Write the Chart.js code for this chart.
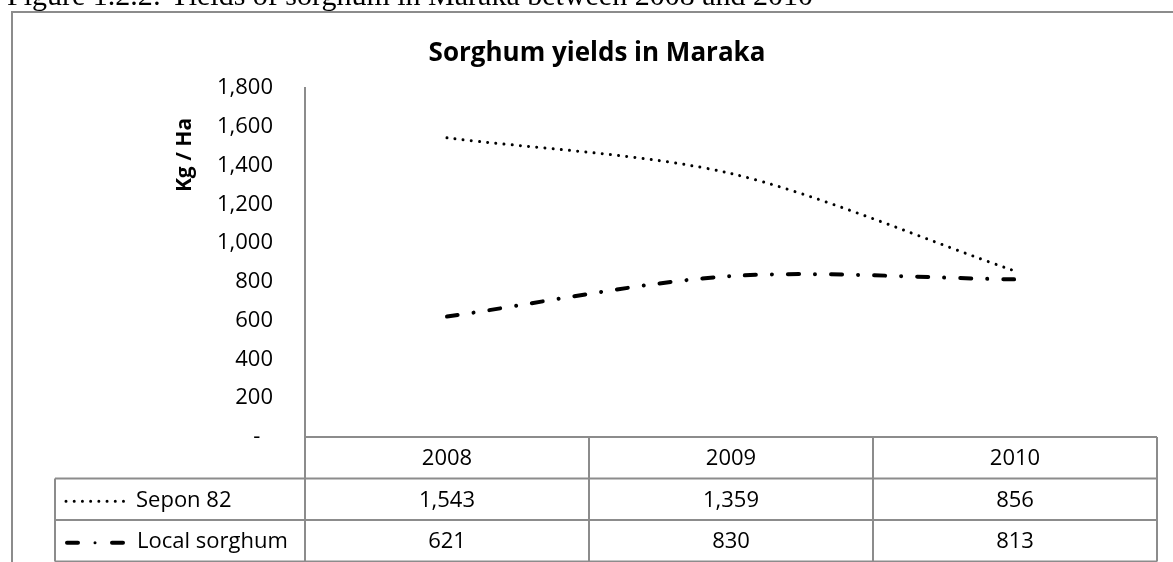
<!DOCTYPE html>
<html>
<head>
<meta charset="utf-8">
<script src="https://cdn.jsdelivr.net/npm/chart.js@4/dist/chart.umd.min.js"></script>
<style>
  html, body { margin: 0; padding: 0; background: #fff; }
  #wrap { position: relative; width: 1173px; height: 562px; }
</style>
</head>
<body>
<div id="wrap"><canvas id="c" width="1173" height="562"></canvas></div>
<script>
// ---- data ----
const caption = 'Figure 1.2.2: Yields of sorghum in Maraka between 2008 and 2010';
const chartTitle = 'Sorghum yields in Maraka';
const yTitle = 'Kg / Ha';
const years = ['2008', '2009', '2010'];
const seriesNames = ['Sepon 82', 'Local sorghum'];
const sepon82 = [1543, 1359, 856];
const localSorghum = [621, 830, 813];
const yMin = 0, yMax = 1800, yStep = 200;

const FONT = '"Open Sans", "Liberation Sans", sans-serif';
const GRAY = '#8c8c8c';
const fmt = v => v.toLocaleString('en-US');

const dashSepon = [0.01, 8.2];
const dashLocal = [11, 16, 0.01, 16];

const tablePlugin = {
  id: 'tablePlugin',
  afterDraw(chart) {
    const ctx = chart.ctx;
    const ca = chart.chartArea;
    const xs = chart.scales.x;
    const colW = (ca.right - ca.left) / years.length;
    const rowH = 41.5;
    const legendLeft = 55;
    ctx.save();

    // caption (cut off at top)
    ctx.fillStyle = '#000';
    ctx.font = '30px "Liberation Serif", "Times New Roman", serif';
    ctx.textAlign = 'left';
    ctx.textBaseline = 'alphabetic';
    ctx.fillText(caption, 7, 5);

    // outer frame (top & left)
    ctx.strokeStyle = GRAY;
    ctx.lineWidth = 2;
    ctx.beginPath();
    ctx.moveTo(12, 562); ctx.lineTo(12, 12); ctx.lineTo(1173, 12);
    ctx.stroke();

    // chart title
    ctx.font = 'bold 26px ' + FONT;
    ctx.textAlign = 'center';
    ctx.fillText(chartTitle, 597, 61);

    // y title
    ctx.save();
    ctx.translate(185, 155);
    ctx.rotate(-Math.PI / 2);
    ctx.font = 'bold 21px ' + FONT;
    ctx.textAlign = 'center';
    ctx.textBaseline = 'middle';
    ctx.fillText(yTitle, 0, 0);
    ctx.restore();

    // table grid
    const top = ca.bottom;
    const r1 = top + rowH, r2 = top + 2 * rowH, r3 = top + 3 * rowH;
    ctx.strokeStyle = GRAY;
    ctx.lineWidth = 2;
    ctx.beginPath();
    ctx.moveTo(ca.left, top); ctx.lineTo(ca.right, top);
    ctx.moveTo(legendLeft, r1); ctx.lineTo(ca.right, r1);
    ctx.moveTo(legendLeft, r2); ctx.lineTo(ca.right, r2);
    ctx.moveTo(legendLeft, r3); ctx.lineTo(ca.right, r3);
    ctx.moveTo(legendLeft, r1); ctx.lineTo(legendLeft, r3);
    for (let i = 0; i <= years.length; i++) {
      const x = ca.left + i * colW;
      ctx.moveTo(x, i === 0 ? ca.top : top); ctx.lineTo(x, r3);
    }
    ctx.stroke();

    // table text
    ctx.fillStyle = '#000';
    ctx.font = '22px ' + FONT;
    ctx.textAlign = 'center';
    ctx.textBaseline = 'middle';
    years.forEach((y, i) => {
      const x = xs.getPixelForValue(i);
      ctx.fillText(y, x, top + rowH / 2 + 1);
      ctx.fillText(fmt(sepon82[i]), x, r1 + rowH / 2 + 1);
      ctx.fillText(fmt(localSorghum[i]), x, r2 + rowH / 2 + 1);
    });

    // legend keys
    ctx.textAlign = 'left';
    ctx.fillText(seriesNames[0], 136, r1 + rowH / 2 + 1);
    ctx.fillText(seriesNames[1], 137, r2 + rowH / 2 + 1);

    ctx.strokeStyle = '#000';
    ctx.lineCap = 'round';
    ctx.lineWidth = 3;
    ctx.setLineDash(dashSepon);
    ctx.beginPath();
    ctx.moveTo(66, r1 + rowH / 2 + 2); ctx.lineTo(131, r1 + rowH / 2 + 2);
    ctx.stroke();

    ctx.lineWidth = 4;
    ctx.setLineDash([]);
    const ly = r2 + rowH / 2 + 2;
    ctx.beginPath();
    ctx.moveTo(67, ly); ctx.lineTo(78, ly);
    ctx.moveTo(112, ly); ctx.lineTo(123, ly);
    ctx.stroke();
    ctx.lineWidth = 3;
    ctx.beginPath();
    ctx.moveTo(95, ly); ctx.lineTo(95.01, ly);
    ctx.stroke();
    ctx.restore();
  }
};

new Chart(document.getElementById('c'), {
  type: 'line',
  data: {
    labels: years,
    datasets: [
      {
        label: seriesNames[0],
        data: sepon82,
        borderColor: '#000',
        borderWidth: 3,
        borderDash: dashSepon,
        borderCapStyle: 'round',
        pointRadius: 0,
        tension: 0.3,
        fill: false
      },
      {
        label: seriesNames[1],
        data: localSorghum,
        borderColor: '#000',
        borderWidth: 4,
        borderDash: dashLocal,
        borderCapStyle: 'round',
        pointRadius: 0,
        tension: 0.3,
        fill: false
      }
    ]
  },
  options: {
    responsive: false,
    animation: false,
    devicePixelRatio: 1,
    layout: { padding: { top: 88, bottom: 125, right: 16, left: 0 } },
    plugins: { legend: { display: false }, title: { display: false }, tooltip: { enabled: false } },
    scales: {
      x: {
        display: false,
        offset: true
      },
      y: {
        min: yMin, max: yMax,
        afterFit(scale) { scale.width = 305; },
        grid: { display: false, drawTicks: false },
        border: { display: true, color: GRAY, width: 2 },
        ticks: {
          stepSize: yStep,
          padding: 32,
          color: '#000',
          font: { family: FONT, size: 22 },
          callback: v => v === 0 ? '-\u2007' : fmt(v)
        }
      }
    }
  },
  plugins: [tablePlugin]
});
</script>
</body>
</html>
